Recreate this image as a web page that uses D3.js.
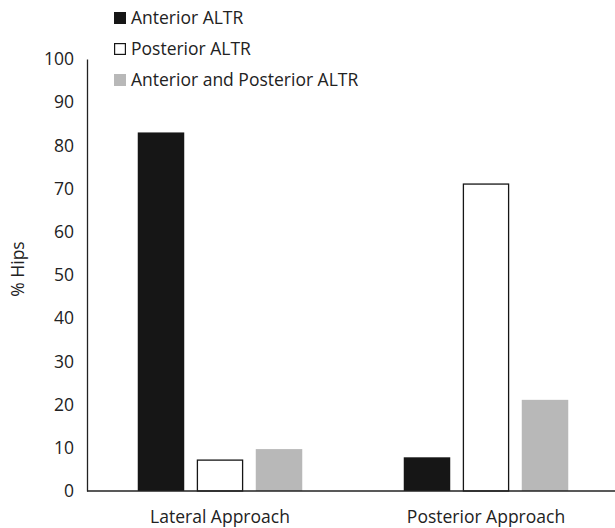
<!DOCTYPE html>
<html><head><meta charset="utf-8">
<script src="https://cdn.jsdelivr.net/npm/d3@7"></script>
<style>body{margin:0;background:#fff}svg{display:block}text{font-family:"Open Sans",sans-serif;fill:#222}</style>
</head><body>
<svg id="c" width="615" height="528"></svg>
<script>
const categories = ["Lateral Approach", "Posterior Approach"];
const seriesNames = ["Anterior ALTR", "Posterior ALTR", "Anterior and Posterior ALTR"];
const anteriorALTR = [83, 7.8];
const posteriorALTR = [7.3, 71.2];
const bothALTR = [9.7, 21.1];
const yTicks = [0, 10, 20, 30, 40, 50, 60, 70, 80, 90, 100];

const values = [anteriorALTR, posteriorALTR, bothALTR];
const fills = ["#161616", "#ffffff", "#b8b8b8"];
const strokes = ["none", "#161616", "none"];
const FS = "17.5px";

const svg = d3.select("#c");
const x0 = d3.scaleBand().domain(categories).range([87, 619]).paddingInner(0).paddingOuter(0);
const x1 = d3.scaleBand().domain(seriesNames).range([0, x0.bandwidth()]).paddingInner(0.212).paddingOuter(0.86);
const y = d3.scaleLinear().domain([0, 100]).range([491, 59]);

// y axis
const yAxis = svg.append("g").attr("transform", "translate(87,0)")
  .call(d3.axisLeft(y).tickValues(yTicks).tickSize(0).tickPadding(13));
yAxis.select(".domain").attr("stroke", "#222").attr("stroke-width", 1.3);
yAxis.selectAll("text").style("font-size", FS).style("font-family", "'Open Sans',sans-serif").attr("fill", "#222");

// bars
categories.forEach((cat, ci) => {
  seriesNames.forEach((s, si) => {
    const v = values[si][ci];
    const sw = strokes[si] === "none" ? 0 : 1.3;
    svg.append("rect")
      .attr("x", x0(cat) + x1(s) + sw / 2)
      .attr("y", y(v) + sw / 2)
      .attr("width", x1.bandwidth() - sw)
      .attr("height", y(0) - y(v) - sw / 2)
      .attr("fill", fills[si])
      .attr("stroke", strokes[si])
      .attr("stroke-width", sw);
  });
});

// x axis
svg.append("line").attr("x1", 87).attr("x2", 615).attr("y1", y(0)).attr("y2", y(0))
  .attr("stroke", "#222").attr("stroke-width", 1.3);
categories.forEach(cat => {
  svg.append("text").attr("x", x0(cat) + x0.bandwidth() / 2).attr("y", 523)
    .attr("text-anchor", "middle").style("font-size", FS).text(cat);
});

// y label
svg.append("text").attr("transform", "translate(24,269) rotate(-90)")
  .attr("text-anchor", "middle").style("font-size", FS).text("% Hips");

// legend
seriesNames.forEach((s, i) => {
  const ly = 18 + i * 31;
  const sw = strokes[i] === "none" ? 0 : 1.2;
  svg.append("rect").attr("x", 114 + sw / 2).attr("y", ly - 6 + sw / 2)
    .attr("width", 12 - sw).attr("height", 12 - sw)
    .attr("fill", fills[i]).attr("stroke", strokes[i]).attr("stroke-width", sw);
  svg.append("text").attr("x", 131).attr("y", ly + 6).style("font-size", FS).text(s);
});
</script>
</body></html>
